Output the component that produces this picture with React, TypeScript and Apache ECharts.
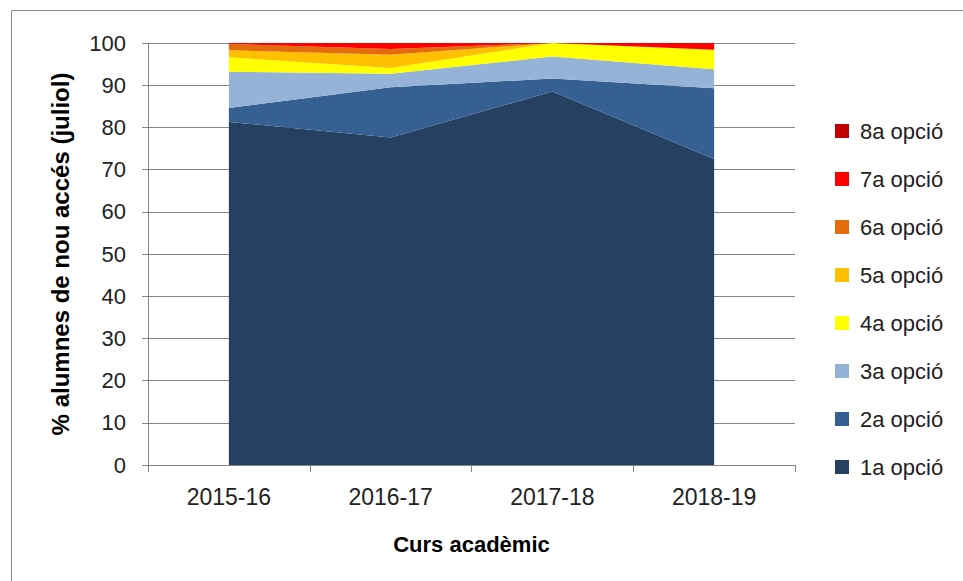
import React, { useEffect, useRef } from "react";
import * as echarts from "echarts";

const categories = ["2015-16", "2016-17", "2017-18", "2018-19"];
const seriesNames = ["1a opció", "2a opció", "3a opció", "4a opció", "5a opció", "6a opció", "7a opció", "8a opció"];
const opcio1 = [81.3, 77.6, 88.5, 72.5];
const opcio2 = [3.3, 11.9, 3.1, 16.8];
const opcio3 = [8.6, 3.2, 5.2, 4.5];
const opcio4 = [3.4, 1.4, 3.2, 4.6];
const opcio5 = [1.7, 3.1, 0.0, 0.0];
const opcio6 = [1.5, 1.4, 0.0, 0.0];
const opcio7 = [0.2, 1.4, 0.0, 1.6];
const opcio8 = [0.0, 0.0, 0.0, 0.0];
const seriesValues = [opcio1, opcio2, opcio3, opcio4, opcio5, opcio6, opcio7, opcio8];
const colors = ["#264061", "#366092", "#95B3D7", "#FFFF00", "#FFC000", "#E46C0A", "#FF0000", "#C00000"];
const yTicks = [0, 10, 20, 30, 40, 50, 60, 70, 80, 90, 100];

const FONT = "'Liberation Sans', 'DejaVu Sans', sans-serif";

export default function App() {
  const ref = useRef<HTMLDivElement>(null);
  useEffect(() => {
    if (!ref.current) return;
    const chart = echarts.init(ref.current, null, { renderer: "svg" });
    chart.setOption({
      animation: false,
      backgroundColor: "#ffffff",
      graphic: [
        {
          type: "rect",
          shape: { x: 11.5, y: 10.5, width: 1000, height: 700 },
          style: { fill: "none", stroke: "#8c8c8c", lineWidth: 1 },
          silent: true,
        },
      ],
      grid: { left: 148, right: 168, top: 43, bottom: 116 },
      legend: {
        orient: "vertical",
        left: 835,
        top: 120,
        padding: 0,
        data: [...seriesNames].reverse(),
        icon: "rect",
        itemWidth: 14,
        itemHeight: 14,
        itemGap: 26,
        textStyle: { fontFamily: FONT, fontSize: 22, color: "#222", padding: [0, 0, 0, 6] },
      },
      xAxis: {
        type: "category",
        data: categories,
        boundaryGap: true,
        name: "Curs acadèmic",
        nameLocation: "middle",
        nameGap: 68,
        nameTextStyle: { fontFamily: FONT, fontSize: 22, fontWeight: "bold", color: "#000" },
        axisLine: { lineStyle: { color: "#868686", width: 1 } },
        axisTick: { show: true, length: 7, lineStyle: { color: "#868686" } },
        axisLabel: { fontFamily: FONT, fontSize: 23, color: "#222", margin: 20 },
      },
      yAxis: {
        type: "value",
        min: 0,
        max: 100,
        interval: 10,
        name: "% alumnes de nou accés (juliol)",
        nameLocation: "middle",
        nameGap: 76,
        nameTextStyle: { fontFamily: FONT, fontSize: 24, fontWeight: "bold", color: "#000" },
        axisLine: { show: true, lineStyle: { color: "#868686", width: 1 } },
        axisTick: { show: true, length: 6, lineStyle: { color: "#868686" } },
        axisLabel: {
          fontFamily: FONT,
          fontSize: 22,
          color: "#222",
          margin: 22,
          formatter: (v: number) => (yTicks.includes(v) ? String(v) : ""),
        },
        splitLine: { show: true, lineStyle: { color: "#868686", width: 1 } },
      },
      series: seriesNames.map((name, i) => ({
        name,
        type: "line",
        stack: "total",
        data: seriesValues[i],
        symbol: "none",
        lineStyle: { width: 0 },
        areaStyle: { color: colors[i], opacity: 1 },
        itemStyle: { color: colors[i] },
        z: 2,
      })),
    });
    return () => chart.dispose();
  }, []);
  return (
    <div
      ref={ref}
      style={{ position: "fixed", left: 0, top: 0, width: 963, height: 581 }}
    />
  );
}
